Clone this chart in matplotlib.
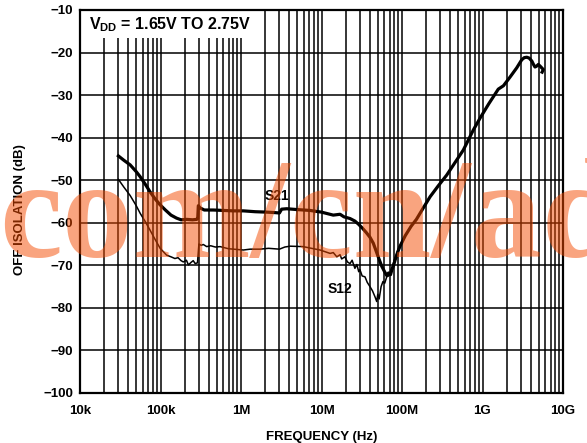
import matplotlib
matplotlib.use("Agg")
import matplotlib.pyplot as plt
from matplotlib.patches import Rectangle
import numpy as np

plt.rcParams['font.family'] = ['Liberation Sans', 'DejaVu Sans']
plt.rcParams['font.weight'] = 'bold'
plt.rcParams['mathtext.fontset'] = 'custom'
plt.rcParams['mathtext.rm'] = 'Liberation Sans:bold'
plt.rcParams['mathtext.bf'] = 'Liberation Sans:bold'

# S21 off isolation (thick trace)
s21_freq = [30e3, 35e3, 42e3, 50e3, 56e3, 65e3, 74e3, 85e3, 99e3, 115e3, 135e3, 158e3,
            180e3, 211e3, 250e3, 282e3, 290e3, 295e3, 310e3, 350e3, 453e3, 600e3, 800e3,
            1.07e6, 1.5e6, 2.09e6, 2.6e6, 3.0e6, 3.2e6, 3.7e6, 5e6, 7.2e6, 10e6, 14e6, 17e6,
            19e6, 22.6e6, 26e6, 28.7e6, 32e6, 36e6, 40e6, 44e6, 48.5e6, 52e6, 56e6, 60e6,
            64.6e6, 68e6, 72e6, 75e6, 78e6, 82e6, 88e6, 94e6, 110e6, 130e6, 151e6, 180e6,
            223e6, 280e6, 359e6, 450e6, 578e6, 769e6, 933e6, 1.2e9, 1.57e9, 1.82e9, 2.19e9,
            2.66e9, 3.07e9, 3.3e9, 3.55e9, 3.8e9, 4.1e9, 4.3e9, 4.49e9, 4.7e9, 4.93e9, 5.2e9,
            5.7e9, 5.5e9]
s21_db = [-44.3, -45.3, -46.4, -48.0, -49.2, -51.0, -52.7, -54.3, -55.8, -57.0, -58.2, -58.9,
          -59.3, -59.2, -59.3, -59.2, -59.0, -56.0, -56.5, -57.0, -57.0, -57.1, -57.2,
          -57.2, -57.4, -57.5, -57.6, -57.7, -56.8, -56.7, -56.9, -57.1, -57.5, -58.2, -58.0,
          -58.6, -59.0, -59.6, -60.3, -61.2, -62.3, -63.4, -64.8, -67.0, -68.6, -70.2, -71.3,
          -72.4, -71.8, -72.2, -71.0, -70.2, -68.8, -67.0, -65.6, -63.0, -60.8, -59.2, -56.8,
          -53.9, -51.4, -48.8, -46.0, -42.9, -38.2, -35.4, -32.0, -28.6, -27.8, -25.8,
          -23.6, -21.7, -21.2, -21.1, -21.3, -22.0, -22.8, -23.4, -23.2, -22.8, -23.2,
          -24.0, -24.6]

# S12 off isolation (thin trace)
s12_freq = [30e3, 35e3, 42e3, 50e3, 56e3, 65e3, 74e3, 85e3, 99e3, 119e3, 135e3, 151e3,
            165e3, 180e3, 192e3, 210e3, 222e3, 240e3, 255e3, 270e3, 288e3, 300e3, 320e3,
            340e3, 375e3, 420e3, 480e3, 550e3, 700e3, 1.07e6, 1.3e6, 1.72e6, 2.2e6, 3.0e6,
            3.5e6, 4.07e6, 5.9e6, 7.5e6, 9.6e6, 12.8e6, 14e6, 15.5e6, 17e6, 17.8e6, 19.5e6,
            21e6, 22.6e6, 24e6, 26e6, 27.5e6, 29e6, 30e6, 32e6, 34.7e6, 37e6, 40e6, 43e6,
            46.2e6, 48.5e6, 50e6, 52e6, 55e6, 58e6, 61e6, 64.6e6, 68e6, 70.8e6, 75e6, 82e6,
            90e6, 100e6]
s12_db = [-49.8, -51.6, -53.6, -56.0, -57.8, -59.8, -61.7, -63.8, -66.0, -67.6, -68.0, -68.4,
          -68.2, -68.9, -69.2, -68.8, -69.9, -69.3, -68.9, -69.6, -69.4, -65.0, -65.3,
          -65.1, -65.6, -65.4, -65.7, -65.6, -66.1, -66.4, -66.2, -66.2, -66.0, -66.2,
          -65.7, -65.5, -65.6, -66.0, -66.4, -67.2, -67.0, -68.0, -67.5, -68.5, -68.0,
          -69.2, -69.6, -68.8, -70.7, -69.8, -71.5, -71.0, -72.5, -72.7, -74.0, -75.0, -76.0,
          -77.4, -78.5, -76.8, -77.9, -75.0, -73.8, -74.2, -72.7, -72.5, -71.9, -70.5, -68.3,
          -66.2, -64.5]

x_ticks = [1e4, 1e5, 1e6, 1e7, 1e8, 1e9, 1e10]
x_labels = ['10k', '100k', '1M', '10M', '100M', '1G', '10G']
y_ticks = [-100, -90, -80, -70, -60, -50, -40, -30, -20, -10]
y_labels = ['\u2212%d' % abs(v) for v in y_ticks]

fig = plt.figure(figsize=(5.87, 4.43), dpi=100)
ax = fig.add_axes([80 / 587, 50 / 443, 483 / 587, 383 / 443])

ax.set_xscale('log')
ax.set_xlim(1e4, 1e10)
ax.set_ylim(-100, -10)

# full grid: decades plus 2..9 minor lines, 10 dB horizontals
for dec in range(4, 10):
    for m in range(1, 10):
        f = m * 10.0 ** dec
        if f > 1e4:
            ax.axvline(f, color='black', lw=1.1, zorder=1)
for v in y_ticks:
    ax.axhline(v, color='black', lw=1.1, zorder=1)

ax.set_xticks(x_ticks)
ax.set_xticklabels(x_labels, fontsize=9.5, fontweight='bold')
ax.set_xticks([], minor=True)
ax.set_yticks(y_ticks)
ax.set_yticklabels(y_labels, fontsize=9.5, fontweight='bold')
ax.tick_params(axis='y', length=0, pad=5)
ax.tick_params(axis='x', length=0, pad=9)
for s in ax.spines.values():
    s.set_linewidth(1.6)

ax.set_xlabel('FREQUENCY (Hz)', fontsize=9.5, fontweight='bold', labelpad=10)
ax.set_ylabel('OFF ISOLATION (dB)', fontsize=9.5, fontweight='bold')
ax.yaxis.set_label_coords(-0.112, 0.48)

ax.plot(s21_freq, s21_db, color='black', lw=2.3, zorder=3, solid_joinstyle='round')
ax.plot(s12_freq, s12_db, color='black', lw=1.1, zorder=3)

ax.text(2.8e6, -53.7, 'S21', fontsize=10, fontweight='bold', ha='center', va='center',
        zorder=4)
ax.text(1.7e7, -75.6, 'S12', fontsize=10, fontweight='bold', ha='center', va='center',
        zorder=4)

# supply-voltage legend on a white panel
ax.add_patch(Rectangle((0, 1 - 28 / 383), 178 / 483, 28 / 383, transform=ax.transAxes,
                       facecolor='white', edgecolor='none', zorder=2))
ax.text(9 / 483, 1 - 15 / 383, r'V$_{\mathbf{DD}}$ = 1.65V TO 2.75V', transform=ax.transAxes,
        fontsize=11.5, fontweight='bold', ha='left', va='center', zorder=4)

# site watermark
fig.text(-0.002, (443 - 257) / 443, 'com/cn/ad', fontsize=102, family='Liberation Serif',
         fontweight='bold', color='#F54B00', alpha=0.5, ha='left', va='baseline', zorder=10)

fig.savefig('out.png', dpi=100)
